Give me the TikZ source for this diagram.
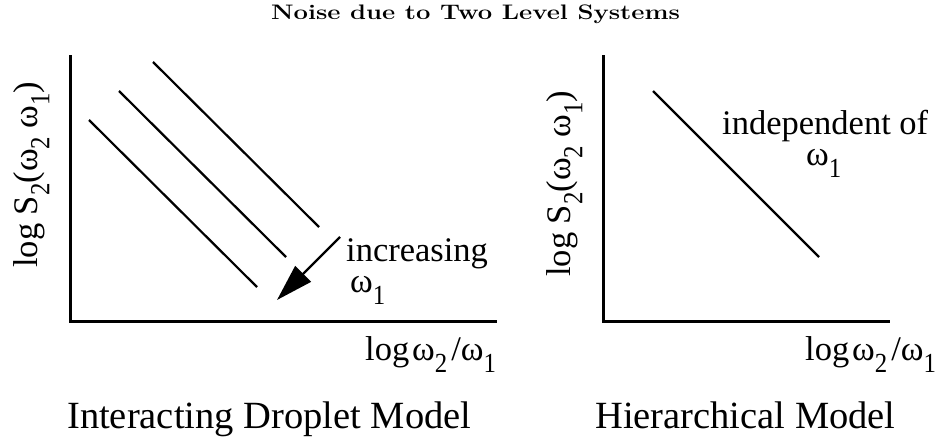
\documentclass[tikz,border=0pt]{standalone}
\usepackage{fontspec}
\newfontfamily\tnr{Liberation Serif}
\usetikzlibrary{arrows.meta}
\newcommand\lsub[1]{\raisebox{-0.36em}{\scalebox{0.72}[0.8]{#1}}}
\tikzset{
  axis/.style={line width=3pt, line cap=rect},
  curve/.style={line width=2.2pt},
  lbl/.style={inner sep=0pt, font=\tnr\fontsize{34.5}{40}\selectfont},
  sublbl/.style={lbl, text height=0.5em},
  biglbl/.style={inner sep=0pt, font=\tnr\fontsize{38.5}{44}\selectfont},
  ttl/.style={inner sep=0pt, font=\fontsize{21}{25}\selectfont\bfseries},
}
\begin{document}
\begin{tikzpicture}[x=1pt,y=-1pt]
\useasboundingbox (0,0) rectangle (937,441);
% title
\node[ttl, anchor=base] (title) at (475.5,19.5) {\scalebox{1.22}[1]{Noise due to Two Level Systems}};
% left plot
\coordinate (LO) at (70,321);
\coordinate (LT) at (70,57);
\coordinate (LR) at (495,321);
\draw[axis] (LT) -- (LO) -- (LR);
\coordinate (a1) at (153,62);  \coordinate (b1) at (319,227);
\coordinate (a2) at (119,91);  \coordinate (b2) at (286,257);
\coordinate (a3) at (89,120);  \coordinate (b3) at (257,287);
\draw[curve] (a1) -- (b1);
\draw[curve] (a2) -- (b2);
\draw[curve] (a3) -- (b3);
\coordinate (arS) at (340,237);
\coordinate (arE) at (277,300);
\draw[curve, -{Triangle[length=37pt,width=22pt]}] (arS) -- (arE);
\node[lbl, anchor=base west] (inc) at (346,261) {increasing};
\node[sublbl, anchor=base west] (incw) at (350,292) {ω\lsub{1}};
\node[lbl, anchor=base west, rotate=90] (ylL) at (37,268) {log S\lsub{2}(ω\lsub{2} ω\lsub{1})};
\node[lbl, anchor=base west] (xlL) at (365,360) {log\hspace{0.08em}ω\lsub{2}\hspace{0.12em}/ω\lsub{1}};
\node[biglbl, anchor=base west] (capL) at (67,428) {Interacting Droplet Model};
% right plot
\coordinate (RO) at (603,321);
\coordinate (RT) at (603,57);
\coordinate (RR) at (888,321);
\draw[axis] (RT) -- (RO) -- (RR);
\coordinate (c1) at (653,91); \coordinate (d1) at (819,257);
\draw[curve] (c1) -- (d1);
\node[lbl, anchor=base west] (ind) at (722,135) {independent of};
\node[sublbl, anchor=base west] (indw) at (806,165) {ω\lsub{1}};
\node[lbl, anchor=base west, rotate=90] (ylR) at (570,277) {log S\lsub{2}(ω\lsub{2} ω\lsub{1})};
\node[lbl, anchor=base west] (xlR) at (805,360) {log\hspace{0.08em}ω\lsub{2}\hspace{0.12em}/ω\lsub{1}};
\node[biglbl, anchor=base west] (capR) at (595,428) {Hierarchical Model};
\end{tikzpicture}
\end{document}
